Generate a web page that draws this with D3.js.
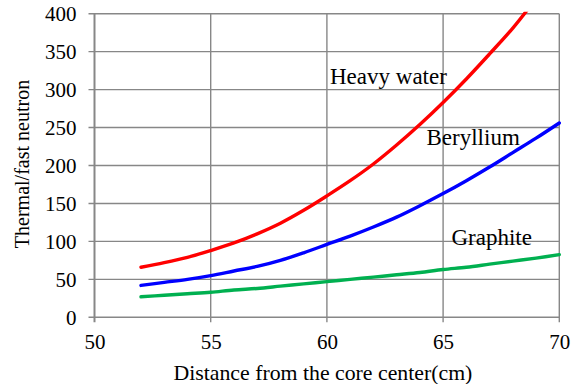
<!DOCTYPE html>
<html><head><meta charset="utf-8">
<script src="https://cdn.jsdelivr.net/npm/d3@7"></script>
<style>html,body{margin:0;padding:0;background:#fff;}svg{display:block;}
text{font-family:'Liberation Serif','Times New Roman',serif;}</style>
</head><body>
<svg id="chart" width="580" height="384"></svg>
<script>
const distance = [52, 53, 54, 55, 56, 57, 58, 59, 60, 61, 62, 63, 64, 65, 66, 67, 68, 69, 70];
const heavyWater = [66, 72, 79, 88, 98, 110, 124, 141, 160, 180, 202, 227, 254, 283, 314, 347, 381, 420, 462];
const beryllium = [42, 46, 50, 55, 61, 67, 75, 85, 96, 107, 119, 132, 147, 163, 180, 198, 217, 236, 256];
const graphite = [27, 29, 31, 33, 36, 38, 41, 44, 47, 50, 53, 56, 59, 63, 66, 70, 74, 78, 82.5];
const xTicks = [50, 55, 60, 65, 70];
const yTicks = [0, 50, 100, 150, 200, 250, 300, 350, 400];
const seriesNames = ["Heavy water", "Beryllium", "Graphite"];
const seriesColors = ["#ff0000", "#0000ff", "#00b050"];

const svg = d3.select("#chart");
const m = {left: 94.5, right: 559.3, top: 13.7, bottom: 317.3};
const x = d3.scaleLinear().domain([50, 70]).range([m.left, m.right]);
const y = d3.scaleLinear().domain([0, 400]).range([m.bottom, m.top]);
const font = "'Liberation Serif','Times New Roman',serif";
const gridColor = "#878787";

// grid
svg.append("g").selectAll("line").data(yTicks).join("line")
  .attr("x1", m.left - 6).attr("x2", m.right)
  .attr("y1", d => y(d)).attr("y2", d => y(d))
  .attr("stroke", gridColor).attr("stroke-width", 1.4);
svg.append("g").selectAll("line").data(xTicks).join("line")
  .attr("x1", d => x(d)).attr("x2", d => x(d))
  .attr("y1", m.top).attr("y2", m.bottom + 5)
  .attr("stroke", gridColor).attr("stroke-width", d => d === 50 ? 2 : 1.4);

// axes labels via d3 axes
const yAxis = svg.append("g").attr("transform", `translate(${m.left},0)`)
  .call(d3.axisLeft(y).tickValues(yTicks).tickSize(0).tickPadding(18));
yAxis.attr("font-family", font).attr("font-size", 21);
yAxis.select(".domain").remove();
yAxis.selectAll("text").attr("font-family", font).attr("font-size", 21).attr("fill", "#000");

const xAxis = svg.append("g").attr("transform", `translate(0,${m.bottom})`)
  .call(d3.axisBottom(x).tickValues(xTicks).tickSize(0).tickPadding(17));
xAxis.attr("font-family", font).attr("font-size", 21);
xAxis.select(".domain").remove();
xAxis.selectAll("text").attr("font-family", font).attr("font-size", 21).attr("fill", "#000");

// clip
svg.append("clipPath").attr("id", "clip").append("rect")
  .attr("x", m.left).attr("y", m.top - 2).attr("width", m.right - m.left + 3).attr("height", m.bottom - m.top + 2);

const line = d3.line().x((d, i) => x(distance[i])).y(d => y(d)).curve(d3.curveCatmullRom.alpha(0.5));
const allSeries = [heavyWater, beryllium, graphite];
svg.append("g").attr("clip-path", "url(#clip)").selectAll("path").data(allSeries).join("path")
  .attr("d", d => line(d)).attr("fill", "none")
  .attr("stroke", (d, i) => seriesColors[i]).attr("stroke-width", 3.4)
  .attr("stroke-linecap", "round");

// annotations
const ann = [
  {name: seriesNames[0], x: 330, y: 84},
  {name: seriesNames[1], x: 426.5, y: 145},
  {name: seriesNames[2], x: 451.5, y: 245}
];
svg.append("g").selectAll("text").data(ann).join("text")
  .attr("x", d => d.x).attr("y", d => d.y).text(d => d.name)
  .attr("font-family", font).attr("font-size", 23).attr("fill", "#000");

// titles
svg.append("text").attr("x", (m.left + m.right) / 2 - 4).attr("y", 380)
  .attr("text-anchor", "middle").attr("font-family", font).attr("font-size", 21.8)
  .text("Distance from the core center(cm)");
svg.append("text").attr("transform", "translate(29,164) rotate(-90)")
  .attr("text-anchor", "middle").attr("font-family", font).attr("font-size", 20)
  .text("Thermal/fast neutron");
</script>
</body></html>
